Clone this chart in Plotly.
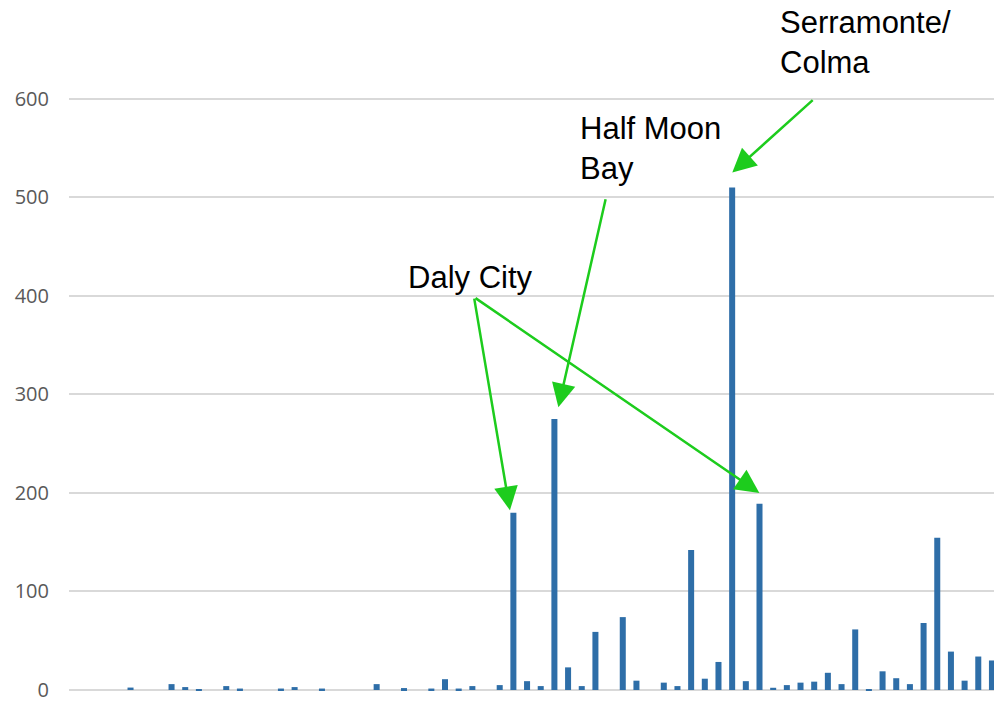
import plotly.graph_objects as go

# Categories (stations, unlabeled in the reference) and values
categories = list(range(68))
values = [
    0, 0, 0, 0,
    2.5, 0, 0, 6, 3, 1, 0, 4, 1.5, 0,
    0, 1.5, 3, 0, 1.5, 0, 0, 0, 6, 0,
    2, 0, 1.5, 11, 1.5, 4, 0, 5, 180, 9,
    4, 275, 23, 4, 59, 0, 74, 9.5, 0, 7.5,
    4, 142, 11.5, 28.5, 510, 9, 189, 2.3, 5, 7.5,
    8.5, 17.5, 6, 61.5, 1, 19, 12, 6, 68, 154.5,
    39, 9.5, 34, 30,
]
y_ticks = [0, 100, 200, 300, 400, 500, 600]

# Callout labels: (text, x, y) and arrows: (tail x, tail y, head x, head y)
labels = [
    ("Daly City", 24.15, 418.9),
    ("Half Moon<br>Bay", 36.73, 549.4),
    ("Serramonte/<br>Colma", 51.37, 656.7),
]
arrows = [
    (29.12, 398.7, 31.75, 182.4),
    (29.12, 398.7, 49.99, 200.0),
    (38.77, 499.5, 35.29, 287.0),
    (54.0, 600.0, 48.01, 525.1),
]

fig = go.Figure(go.Bar(
    x=categories, y=values,
    marker=dict(color="#2E6EA8", line=dict(width=0)),
    hoverinfo="x+y",
))

ann = []
for t, x, y in labels:
    ann.append(dict(text=t, x=x, y=y, xref="x", yref="y", showarrow=False,
                    xanchor="left", yanchor="middle", align="left",
                    font=dict(family="Liberation Sans, Arial", size=31, color="black")))
for tx, ty, hx, hy in arrows:
    ann.append(dict(text="", x=hx, y=hy, ax=tx, ay=ty, xref="x", yref="y",
                    axref="x", ayref="y", showarrow=True, arrowhead=2,
                    arrowsize=1.9, arrowwidth=2.5, arrowcolor="#1DCC1D",
                    standoff=0, startstandoff=0))

fig.update_layout(
    width=994, height=703,
    margin=dict(l=69, r=0, t=0, b=0),
    paper_bgcolor="white", plot_bgcolor="white",
    showlegend=False, bargap=0.56,
    annotations=ann,
    xaxis=dict(range=[-0.5, 67.15], showticklabels=False, showgrid=False,
               zeroline=False, showline=False, ticks=""),
    yaxis=dict(range=[-11.13, 700.2], tickvals=y_ticks, showgrid=True,
               gridcolor="#D9D9D9", gridwidth=2, zeroline=True,
               zerolinecolor="#D9D9D9", zerolinewidth=2, showline=False,
               ticks="", ticklabelstandoff=19, ticklabeloverflow="allow",
               tickfont=dict(family="Open Sans", size=20, color="#595959")),
)

fig.write_html("out.html", config={"displayModeBar": False})

# remove the browser's default page margin so the figure sits at (0, 0)
with open("out.html", encoding="utf-8") as f:
    html = f.read()
html = html.replace("<body>", '<body style="margin:0;padding:0;overflow:hidden">', 1)
with open("out.html", "w", encoding="utf-8") as f:
    f.write(html)
